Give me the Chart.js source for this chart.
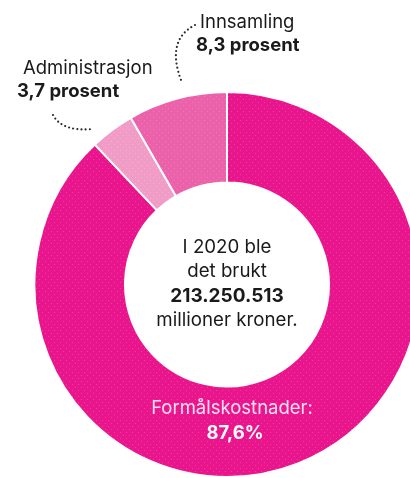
<!DOCTYPE html>
<html>
<head>
<meta charset="utf-8">
<script src="https://cdn.jsdelivr.net/npm/chart.js@4"></script>
<style>
  html, body { margin: 0; padding: 0; background: #fff; overflow: hidden; width: 410px; height: 478px; }
  #wrap { position: absolute; left: 0; top: 0; width: 454px; height: 478px; }
</style>
</head>
<body>
<div id="wrap"><canvas id="chart" width="454" height="478"></canvas></div>
<script>
// ---------- Data ----------
const categories = ["Formålskostnader", "Administrasjon", "Innsamling"];
const shares = [87.6, 3.7, 8.3];
const shareLabels = ["87,6%", "3,7 prosent", "8,3 prosent"];
const centerLines = ["I 2020 ble", "det brukt", "213.250.513", "millioner kroner."];

const FONT = `Inter, "Noto Sans", Roboto, sans-serif`;

// dotted print-like texture for the slices
function dotted(base, dot) {
  const c = document.createElement("canvas");
  c.width = 6; c.height = 6;
  const g = c.getContext("2d");
  g.fillStyle = base;
  g.fillRect(0, 0, 6, 6);
  g.fillStyle = dot;
  g.fillRect(0, 0, 1, 1);
  g.fillRect(3, 3, 1, 1);
  return g.createPattern(c, "repeat");
}
const ctx = document.getElementById("chart").getContext("2d");
const colors = [
  dotted("#e9158d", "#ef3ca0"),
  dotted("#f09cc7", "#f3b0d3"),
  dotted("#eb62ab", "#ef7bb9"),
];

// ---------- Annotations (labels, connectors, center text) ----------
const annotations = {
  id: "annotations",
  afterDraw(chart) {
    const c = chart.ctx;
    const arc = chart.getDatasetMeta(0).data[0];
    const cx = arc.x, cy = arc.y;
    c.save();
    c.textAlign = "center";
    c.textBaseline = "middle";

    // center text
    c.fillStyle = "#1a1a1a";
    c.font = `400 18.7px ${FONT}`;
    c.fillText(centerLines[0], cx, cy - 37);
    c.fillText(centerLines[1], cx, cy - 13);
    c.font = `700 19px ${FONT}`;
    c.fillText(centerLines[2], cx, cy + 12);
    c.font = `400 18.7px ${FONT}`;
    c.fillText(centerLines[3], cx, cy + 36);

    // label inside big slice
    c.fillStyle = "#fbe0ef";
    c.font = `400 18.5px ${FONT}`;
    c.fillText(categories[0] + ":", cx + 5, 408);
    c.fillStyle = "#ffffff";
    c.font = `700 18.5px ${FONT}`;
    c.fillText(shareLabels[0], cx + 8, 433);

    // outside labels
    c.fillStyle = "#1a1a1a";
    c.textAlign = "left";
    c.font = `400 18.5px ${FONT}`;
    c.fillText(categories[2], 200, 22);
    c.fillText(categories[1], 23, 68);
    c.font = `700 18.5px ${FONT}`;
    c.fillText(shareLabels[2], 196, 45);
    c.fillText(shareLabels[1], 17, 91);

    // dotted connectors
    c.strokeStyle = "#2b2b2b";
    c.lineWidth = 2.2;
    c.lineCap = "round";
    c.setLineDash([0, 4.2]);
    c.beginPath();
    c.moveTo(195, 25);
    c.quadraticCurveTo(166, 40, 181, 80);
    c.stroke();
    c.beginPath();
    c.moveTo(53, 115);
    c.quadraticCurveTo(62, 132, 93, 129);
    c.stroke();
    c.restore();
  },
};

// ---------- Doughnut ----------
new Chart(ctx, {
  type: "doughnut",
  data: {
    labels: categories,
    datasets: [
      {
        data: shares,
        backgroundColor: colors,
        borderColor: "#ffffff",
        borderWidth: 2,
        borderAlign: "center",
      },
    ],
  },
  options: {
    responsive: false,
    animation: false,
    cutout: "53%",
    layout: { padding: { top: 91, left: 32, right: 32, bottom: 0 } },
    plugins: {
      legend: { display: false },
      tooltip: { enabled: false },
    },
  },
  plugins: [annotations],
});
</script>
</body>
</html>
